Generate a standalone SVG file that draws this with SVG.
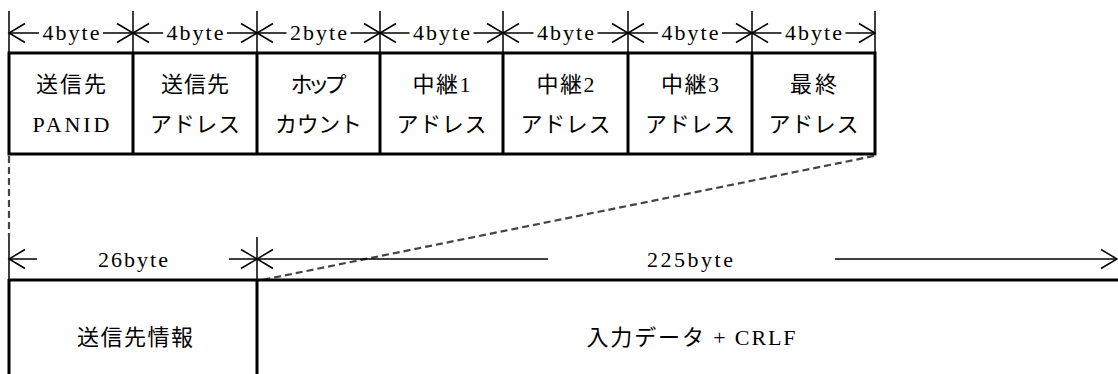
<svg xmlns="http://www.w3.org/2000/svg" width="1118" height="374" viewBox="0 0 1118 374">
<style>
.thin{stroke:#000;stroke-width:1.5;fill:none}
.thick{stroke:#000;stroke-width:3;fill:none}
.dash{stroke:#444;stroke-width:2.2;stroke-dasharray:7 4;fill:none}
.dim{stroke:#000;stroke-width:1.5;fill:none;marker-start:url(#chevS);}
.dimE{stroke:#000;stroke-width:1.5;fill:none;marker-end:url(#chevE);}
text{font-family:"Liberation Serif","Noto Sans CJK JP",serif;font-size:22px;fill:#000;text-anchor:middle}
</style>
<defs>
<marker id="chevE" markerUnits="userSpaceOnUse" markerWidth="20" markerHeight="22" viewBox="-18 -11 20 22" refX="0" refY="0" orient="auto" overflow="visible"><path d="M-16,-9.5 L0,0 L-16,9.5" fill="none" stroke="#000" stroke-width="1.5"/></marker>
<marker id="chevS" markerUnits="userSpaceOnUse" markerWidth="20" markerHeight="22" viewBox="-18 -11 20 22" refX="0" refY="0" orient="auto-start-reverse" overflow="visible"><path d="M-16,-9.5 L0,0 L-16,9.5" fill="none" stroke="#000" stroke-width="1.5"/></marker>
</defs>

<g id="connectors">
<path class="thin" d="M9,11V53 M133,11V53 M257,11V53 M380,11V53 M503,11V53 M628,11V53 M752,11V53 M875,11V53"/>
<path class="dim" d="M9,33H39"/><path class="dimE" d="M103,33H133"/>
<path class="dim" d="M133,33H163"/><path class="dimE" d="M227,33H257"/>
<path class="dim" d="M257,33H286.5"/><path class="dimE" d="M350.5,33H380"/>
<path class="dim" d="M380,33H409.5"/><path class="dimE" d="M473.5,33H503"/>
<path class="dim" d="M503,33H533.5"/><path class="dimE" d="M597.5,33H628"/>
<path class="dim" d="M628,33H658"/><path class="dimE" d="M722,33H752"/>
<path class="dim" d="M752,33H781.5"/><path class="dimE" d="M845.5,33H875"/>
<path class="dash" d="M9,156V237"/>
<path class="dash" d="M874,156L262,280"/>
<path class="thin" d="M9,237V280 M257,237V280"/>
<path class="dim" d="M9,259H37"/><path class="dimE" d="M229,259H257"/>
<path class="dim" d="M257,259H548"/><path class="dimE" d="M835,259H1117"/>
<text x="71" y="40" textLength="57">4byte</text>
<text x="195" y="40" textLength="57">4byte</text>
<text x="318.5" y="40" textLength="57">2byte</text>
<text x="441.5" y="40" textLength="57">4byte</text>
<text x="565.5" y="40" textLength="57">4byte</text>
<text x="690" y="40" textLength="57">4byte</text>
<text x="813.5" y="40" textLength="57">4byte</text>
<text x="133" y="267" textLength="70">26byte</text>
<text x="690" y="267" textLength="86">225byte</text>
</g>

<g id="top-frame">
<rect class="thick" x="9" y="53" width="866" height="101"/>
<path class="thick" d="M133,53V154 M257,53V154 M380,53V154 M503,53V154 M628,53V154 M752,53V154"/>
</g>

<g id="n-panid"><text x="71" y="92" textLength="70">送信先</text><text x="71" y="132" textLength="77">PANID</text></g>
<g id="n-dstaddr"><text x="195" y="92" textLength="68">送信先</text><text x="195" y="132" textLength="90">アドレス</text></g>
<g id="n-hop"><text x="318.5" y="92" textLength="56">ホップ</text><text x="318.5" y="132" textLength="87">カウント</text></g>
<g id="n-relay1"><text x="441.5" y="92" textLength="58">中継1</text><text x="441.5" y="132" textLength="90">アドレス</text></g>
<g id="n-relay2"><text x="565.5" y="92" textLength="58">中継2</text><text x="565.5" y="132" textLength="90">アドレス</text></g>
<g id="n-relay3"><text x="690" y="92" textLength="58">中継3</text><text x="690" y="132" textLength="90">アドレス</text></g>
<g id="n-final"><text x="813.5" y="92" textLength="47">最終</text><text x="813.5" y="132" textLength="90">アドレス</text></g>

<g id="n-dstinfo">
<path class="thick" d="M9,280H257 M9,279V374 M257,279V374"/>
<text x="135" y="345" textLength="116">送信先情報</text>
</g>
<g id="n-data">
<path class="thick" d="M257,280H1118"/>
<text x="691" y="345" textLength="209">入力データ + CRLF</text>
</g>
</svg>
